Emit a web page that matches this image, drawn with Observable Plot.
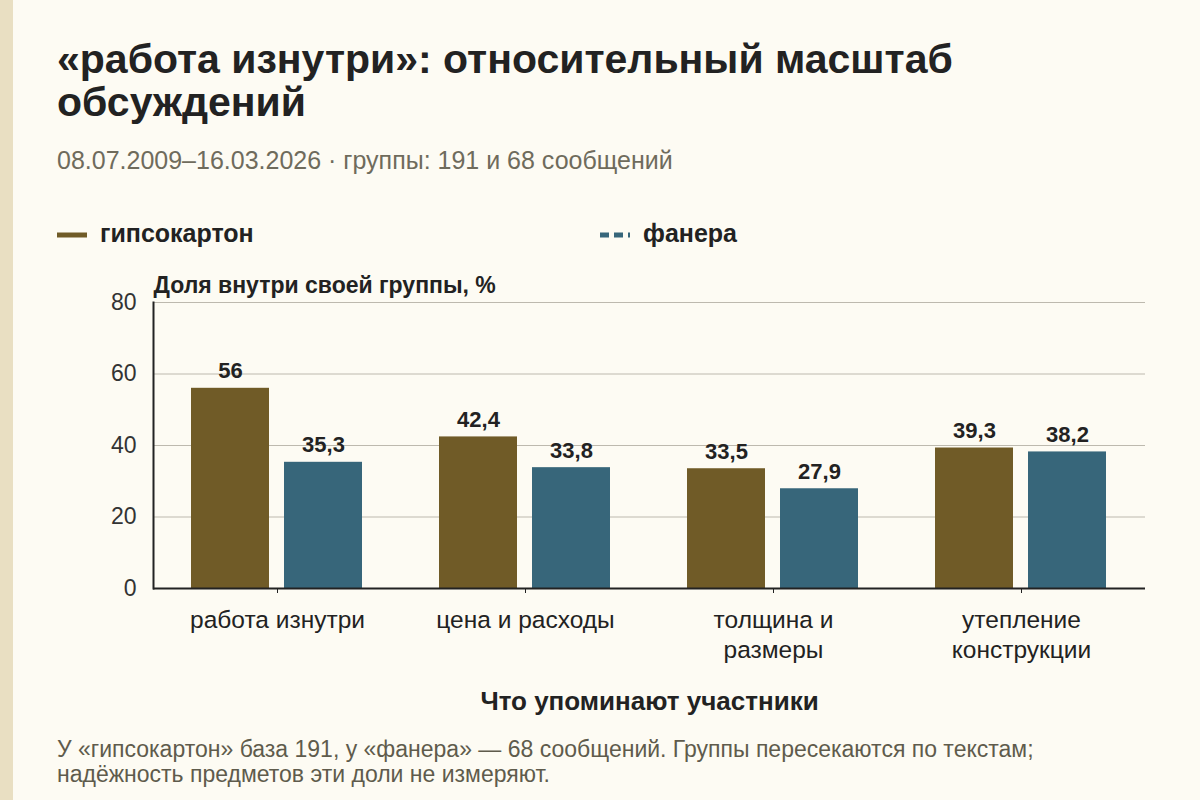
<!DOCTYPE html>
<html>
<head>
<meta charset="utf-8">
<script src="https://cdn.jsdelivr.net/npm/d3@7"></script>
<script src="https://cdn.jsdelivr.net/npm/@observablehq/plot@0.6"></script>
<style>
  html, body { margin: 0; padding: 0; }
  body { width: 1200px; height: 800px; background: #fdfbf3; position: relative; overflow: hidden;
         font-family: "Liberation Sans", Arial, sans-serif; color: #222; }
  #stripe { position: absolute; left: 0; top: 0; width: 13px; height: 800px; background: #e9dfc2; }
  #title { position: absolute; left: 57px; top: 38px; font-size: 41px; line-height: 43px; font-weight: bold; color: #222; white-space: nowrap; }
  #subtitle { position: absolute; left: 57px; top: 148px; font-size: 25px; line-height: 24px; color: #6f6b5c; white-space: nowrap; }
  .leg { position: absolute; top: 221px; font-size: 25px; line-height: 24px; font-weight: bold; color: #222; white-space: nowrap; }
  .leg svg { position: absolute; left: -43px; top: 10px; }
  #chart { position: absolute; left: 0; top: 260px; }
  #footer { position: absolute; left: 57px; top: 737px; font-size: 23px; line-height: 25px; color: #5f5b4c; white-space: nowrap; }
</style>
</head>
<body>
<div id="stripe"></div>
<div id="title">«работа изнутри»: относительный масштаб<br>обсуждений</div>
<div id="subtitle">08.07.2009–16.03.2026 · группы: 191 и 68 сообщений</div>
<div class="leg" id="leg1" style="left:100px"></div>
<div class="leg" id="leg2" style="left:643px"></div>
<div id="chart"></div>
<div id="footer">У «гипсокартон» база 191, у «фанера» — 68 сообщений. Группы пересекаются по текстам;<br>надёжность предметов эти доли не измеряют.</div>
<script>
const categories = ["работа изнутри", "цена и расходы", "толщина и размеры", "утепление конструкции"];
const categoryLabels = ["работа изнутри", "цена и расходы", "толщина и\nразмеры", "утепление\nконструкции"];
const seriesNames = ["гипсокартон", "фанера"];
const gypsumValues = [56, 42.4, 33.5, 39.3];
const plywoodValues = [35.3, 33.8, 27.9, 38.2];
const yTicks = [0, 20, 40, 60, 80];
const seriesColors = ["#705b27", "#37667a"];
const yLabel = "Доля внутри своей группы, %";
const xLabel = "Что упоминают участники";

const data = [];
categories.forEach((c, i) => {
  data.push({category: c, series: seriesNames[0], value: gypsumValues[i]});
  data.push({category: c, series: seriesNames[1], value: plywoodValues[i]});
});
const fmt = v => String(v).replace(".", ",");
const labelOf = c => categoryLabels[categories.indexOf(c)];

// legend
function legend(el, name, color, dashed) {
  el.innerHTML = `<svg width="32" height="8"><line x1="0" x2="30" y1="4" y2="4" stroke="${color}" stroke-width="5" ${dashed ? 'stroke-dasharray="9 5"' : ''}/></svg>${name}`;
}
legend(document.getElementById("leg1"), seriesNames[0], seriesColors[0], false);
legend(document.getElementById("leg2"), seriesNames[1], seriesColors[1], true);

const chart = Plot.plot({
  width: 1200,
  height: 470,
  marginLeft: 153,
  marginRight: 55,
  marginTop: 42,
  marginBottom: 142,
  style: { background: "transparent", fontFamily: "'Liberation Sans', Arial, sans-serif", color: "#222" },
  fx: { domain: categories, padding: 0, label: null },
  x: { domain: seriesNames, paddingInner: 0.16, paddingOuter: 0.41, axis: null },
  y: { domain: [0, 80], ticks: yTicks, label: null },
  color: { domain: seriesNames, range: seriesColors },
  marks: [
    Plot.gridY(yTicks, { stroke: "#bdb9ae", strokeOpacity: 1, strokeWidth: 1 }),
    Plot.axisY(yTicks, { tickSize: 0, tickPadding: 17, fontSize: 23, label: null, fill: "#333" }),
    Plot.axisFx({ anchor: "bottom", tickSize: 5, tickPadding: 14, fontSize: 24.5, tickFormat: labelOf, label: null, lineHeight: 1.2, fill: "#222" }),
    Plot.barY(data, { fx: "category", x: "series", y: "value", fill: "series" }),
    Plot.text(data, { fx: "category", x: "series", y: "value", text: d => fmt(d.value), lineAnchor: "bottom", dy: -10, fontSize: 22, fontWeight: "bold", fill: "#222" }),
    Plot.ruleY([0], { stroke: "#222", strokeWidth: 2 }),
    Plot.frame({ anchor: "left", facet: "super", stroke: "#222", strokeWidth: 2 }),
    Plot.text([yLabel], { frameAnchor: "top-left", textAnchor: "start", lineAnchor: "bottom", dy: -10, fontSize: 23, fontWeight: "bold", fill: "#222", facet: "super" }),
    Plot.text([xLabel], { frameAnchor: "bottom", dy: 121, fontSize: 26, fontWeight: "bold", fill: "#222", facet: "super" })
  ]
});
document.getElementById("chart").appendChild(chart);
</script>
</body>
</html>
